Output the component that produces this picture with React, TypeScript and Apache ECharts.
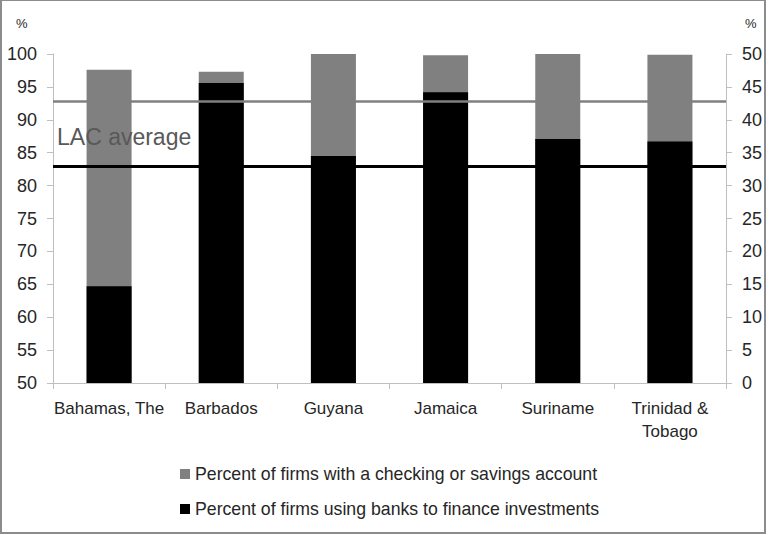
import React, { useEffect, useRef } from "react";
import * as echarts from "echarts";

// Countries shown along the horizontal axis
const categories = ["Bahamas, The", "Barbados", "Guyana", "Jamaica", "Suriname", "Trinidad &\nTobago"];

// Percent of firms with a checking or savings account (left axis, 50–100)
const checkingAccount = [97.6, 97.3, 100, 99.8, 100, 99.9];

// Percent of firms using banks to finance investments (right axis, 0–50)
const bankFinance = [14.7, 45.6, 34.5, 44.2, 37.1, 36.7];

// Regional (LAC) averages for each indicator
const lacAvgChecking = 92.8;
const lacAvgFinance = 33.0;

const seriesNames = [
  "Percent of firms with a checking or savings account",
  "Percent of firms using banks to finance investments",
];

const FONT = "'Liberation Sans', Arial, sans-serif";
const TEXT = "#262626";

export default function App() {
  const ref = useRef<HTMLDivElement>(null);

  useEffect(() => {
    if (!ref.current) return;
    const chart = echarts.init(ref.current, undefined, { renderer: "svg" });

    const valueAxisCommon = {
      type: "value" as const,
      interval: 5,
      splitLine: { show: false },
      axisLine: { show: true, lineStyle: { color: "#bfbfbf", width: 1 } },
      axisTick: { show: true, length: 6, lineStyle: { color: "#bfbfbf" } },
      axisLabel: { color: TEXT, fontSize: 18, fontFamily: FONT, margin: 16 },
    };

    chart.setOption({
      animation: false,
      backgroundColor: "#ffffff",
      grid: { left: 53, right: 43, top: 54, bottom: 152, containLabel: false },
      xAxis: {
        type: "category",
        data: categories,
        axisLine: { lineStyle: { color: "#bfbfbf" } },
        axisTick: { show: true, length: 6, alignWithLabel: false, lineStyle: { color: "#bfbfbf" } },
        axisLabel: { color: TEXT, fontSize: 17, fontFamily: FONT, margin: 14, lineHeight: 23, interval: 0 },
      },
      yAxis: [
        { ...valueAxisCommon, min: 50, max: 100, position: "left" },
        { ...valueAxisCommon, min: 0, max: 50, position: "right" },
      ],
      legend: {
        data: seriesNames,
        orient: "vertical",
        left: 175,
        top: 460,
        itemWidth: 10,
        itemHeight: 10,
        itemGap: 17,
        icon: "rect",
        textStyle: { color: TEXT, fontSize: 17.7, fontFamily: FONT },
      },
      series: [
        {
          // Average lines sit underneath the bars
          type: "line",
          name: "avg-left",
          yAxisIndex: 0,
          data: [],
          z: 1,
          silent: true,
          markLine: {
            silent: true,
            symbol: "none",
            label: { show: false },
            lineStyle: { color: "#808080", width: 2.5, type: "solid" },
            data: [{ yAxis: lacAvgChecking }],
          },
        },
        {
          type: "line",
          name: "avg-right",
          yAxisIndex: 1,
          data: [],
          z: 1,
          silent: true,
          markLine: {
            silent: true,
            symbol: "none",
            label: { show: false },
            lineStyle: { color: "#000000", width: 3, type: "solid" },
            data: [{ yAxis: lacAvgFinance }],
          },
        },
        {
          type: "bar",
          name: seriesNames[0],
          yAxisIndex: 0,
          data: checkingAccount,
          barWidth: 45,
          barGap: "-100%",
          itemStyle: { color: "#808080" },
          z: 2,
        },
        {
          type: "bar",
          name: seriesNames[1],
          yAxisIndex: 1,
          data: bankFinance,
          barWidth: 45,
          barGap: "-100%",
          itemStyle: { color: "#000000" },
          z: 3,
        },
      ],
      graphic: [
        {
          type: "rect",
          shape: { x: 1, y: 0, width: 764, height: 533 },
          style: { fill: "none", stroke: "#8c8c8c", lineWidth: 2 },
          silent: true,
        },
        {
          type: "text",
          left: 57,
          top: 125,
          z: 10,
          style: { text: "LAC average", fill: "#595959", font: `23px ${FONT}` },
        },
        {
          type: "text",
          left: 16,
          top: 17,
          style: { text: "%", fill: TEXT, font: `13px ${FONT}` },
        },
        {
          type: "text",
          left: 745,
          top: 17,
          style: { text: "%", fill: TEXT, font: `13px ${FONT}` },
        },
      ],
    });

    return () => chart.dispose();
  }, []);

  return (
    <div
      ref={ref}
      style={{ position: "absolute", left: 0, top: 0, width: 769, height: 535 }}
    />
  );
}
